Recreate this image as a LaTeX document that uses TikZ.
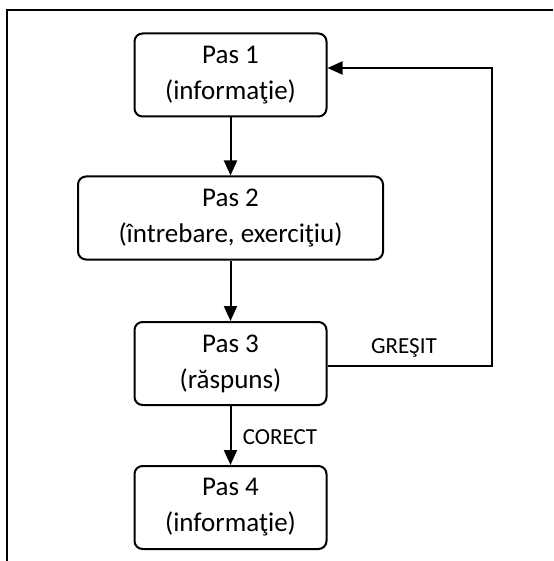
\documentclass[tikz,border=0pt]{standalone}
\usepackage{fontspec}
\setmainfont{Carlito}
\usepackage{tikz}
\usetikzlibrary{arrows.meta}

\begin{document}
\begin{tikzpicture}[x=1pt,y=-1pt,
    pasbox/.style={draw,line width=2pt,rounded corners=8pt,align=center,
      inner sep=0pt,minimum height=83pt,font=\fontsize{27}{36}\selectfont},
    lbl/.style={font=\fontsize{23}{27}\selectfont,inner sep=0pt},
    flow/.style={line width=2pt,-{Triangle[length=15pt,width=13pt]}}]
    \useasboundingbox (0,0) rectangle (553,561);
    \draw[line width=2pt] (7,561) -- (7,10) -- (553,10);
    \node[pasbox,minimum width=192pt] (pas1) at (230.5,75) {Pas 1\\(informaţie)};
    \node[pasbox,minimum width=305pt] (pas2) at (230.5,218) {Pas 2\\(întrebare, exerciţiu)};
    \node[pasbox,minimum width=192pt] (pas3) at (230.5,363.5) {Pas 3\\(răspuns)};
    \node[pasbox,minimum width=192pt] (pas4) at (230.5,507.5) {Pas 4\\(informaţie)};
    \coordinate (bucla) at (492,366);
    \draw[flow] (pas1) -- (pas2);
    \draw[flow] (pas2) -- (pas3);
    \draw[flow] (pas3) -- (pas4);
    \draw[flow] ([yshift=-2.5pt]pas3.east) -- (bucla) |- ([yshift=7pt]pas1.east);
    \node[lbl] (gresit) at (404,348) {GREŞIT};
    \node[lbl] (corect) at (280,437) {CORECT};
\end{tikzpicture}
\end{document}
